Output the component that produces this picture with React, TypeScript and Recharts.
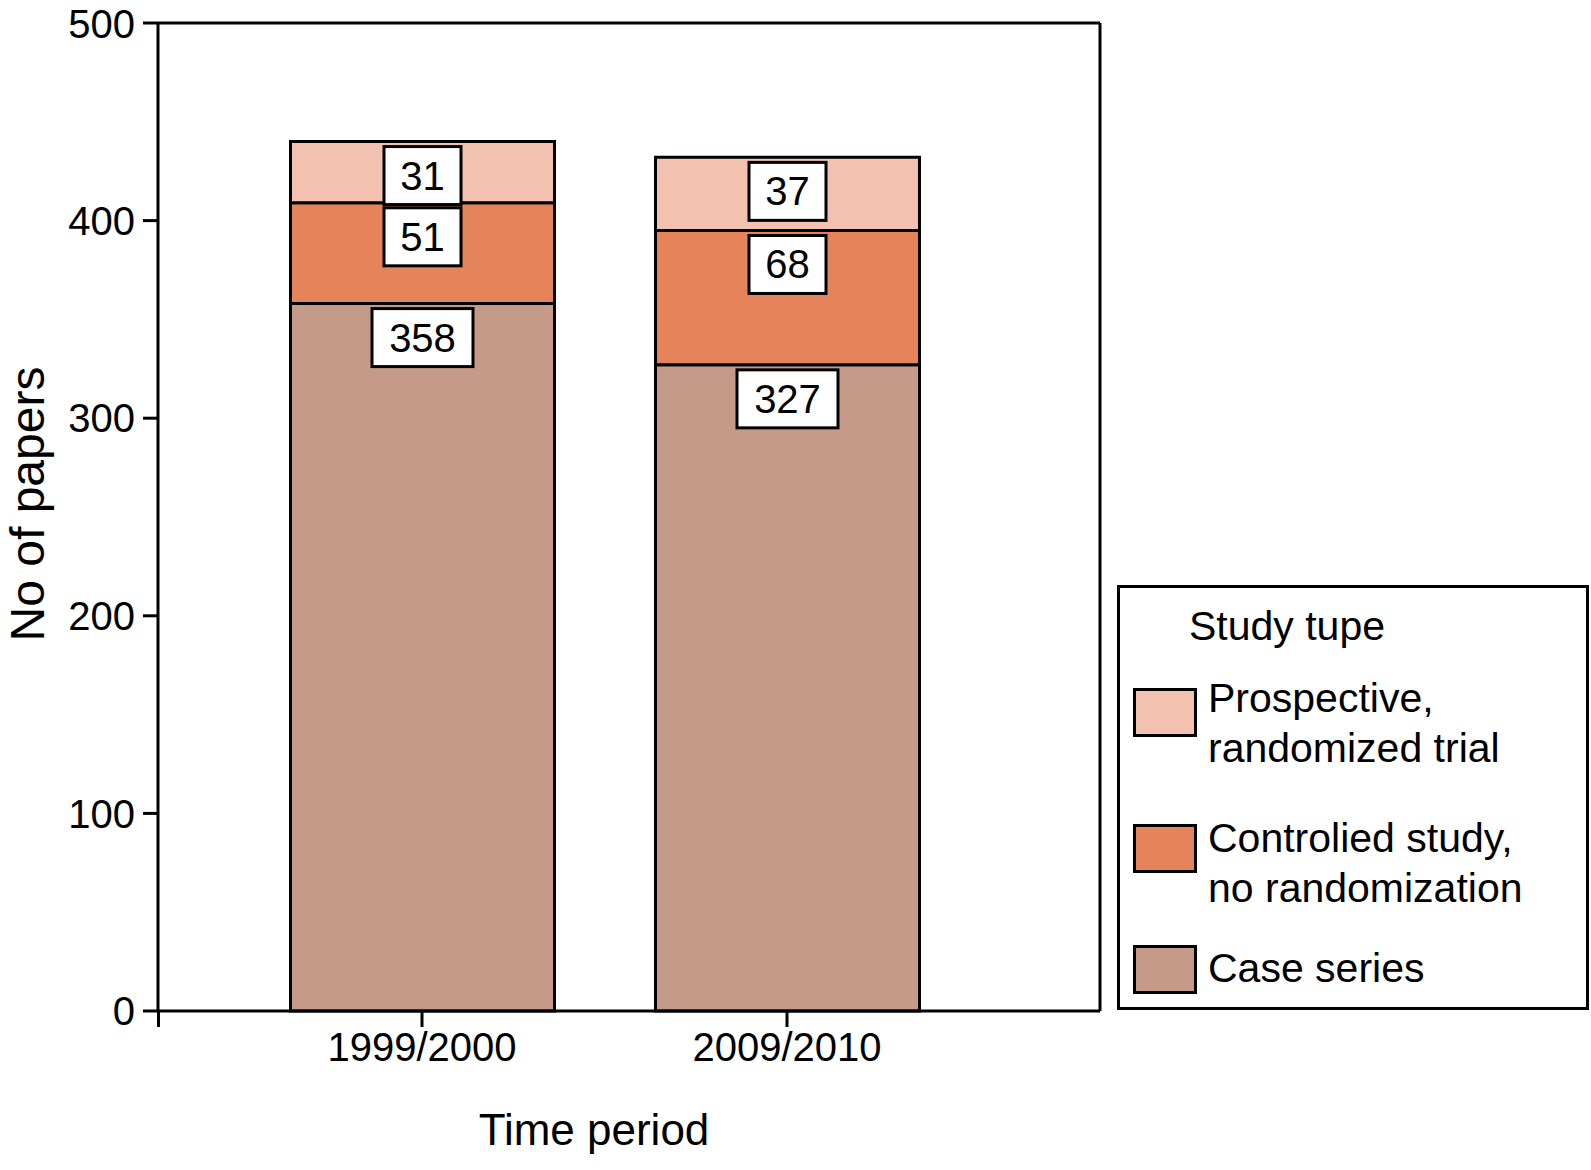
import { BarChart, Bar, XAxis, YAxis, Legend, LabelList, Label, CartesianGrid } from "recharts";

const periods = ["1999/2000", "2009/2010"];
const caseSeries = [358, 327];
const controlled = [51, 68];
const prospective = [31, 37];
const yTicks = [0, 100, 200, 300, 400, 500];

const SERIES = [
  { key: "caseSeries", name: "Case series", lines: ["Case series"], color: "#c69a89" },
  {
    key: "controlled",
    name: "Controlied study, no randomization",
    lines: ["Controlied study,", "no randomization"],
    color: "#e5845a",
  },
  {
    key: "prospective",
    name: "Prospective, randomized trial",
    lines: ["Prospective,", "randomized trial"],
    color: "#f3c1af",
  },
];

const data = periods.map((period, i) => ({
  period,
  caseSeries: caseSeries[i],
  controlled: controlled[i],
  prospective: prospective[i],
}));

const FONT = '"Liberation Sans", Arial, Helvetica, sans-serif';
const line = { stroke: "#000", strokeWidth: 3 };
const MARGIN = { top: 23, right: 491, bottom: 0, left: 0 };
const CHART_W = 1591;

function ValueBox(props: any) {
  const { x, y, width, value } = props;
  const cx = Number(x) + Number(width) / 2;
  const w = String(value).length > 2 ? 101 : 77;
  const top = Number(y) + 5;
  return (
    <g>
      <rect x={cx - w / 2} y={top} width={w} height={58} fill="#fff" stroke="#000" strokeWidth={3} />
      <text x={cx} y={top + 43} textAnchor="middle" fontSize={40} fill="#000">
        {value}
      </text>
    </g>
  );
}

function YTitle(props: any) {
  const vb = props.viewBox;
  const x = vb.x + 44;
  const y = vb.y + vb.height / 2 - 13;
  return (
    <text x={x} y={y} transform={`rotate(-90, ${x}, ${y})`} textAnchor="middle" fontSize={48} fill="#000">
      No of papers
    </text>
  );
}

function XTitle(props: any) {
  const vb = props.viewBox;
  return (
    <text x={vb.x + 436} y={vb.y + 134} textAnchor="middle" fontSize={44} fill="#000">
      Time period
    </text>
  );
}

// legend reads top to bottom opposite to the stacking order
const swatchTops = [103, 239, 360];
const textBaselines = [[127, 177], [267, 317], [397]];

function StudyLegend() {
  const items = [...SERIES].reverse();
  return (
    <svg width={472} height={425} style={{ display: "block" }}>
      <rect x={1.5} y={1.5} width={469} height={422} fill="#fff" stroke="#000" strokeWidth={3} />
      <text x={72} y={55} fontSize={41} fill="#000">
        Study tupe
      </text>
      {items.map((s, i) => (
        <g key={s.key}>
          <rect x={17.5} y={swatchTops[i] + 1.5} width={61} height={46} fill={s.color} stroke="#000" strokeWidth={3} />
          {s.lines.map((t, j) => (
            <text key={t} x={91} y={textBaselines[i][j]} fontSize={41} fill="#000">
              {t}
            </text>
          ))}
        </g>
      ))}
    </svg>
  );
}

// grid is used only for the top and right edges of the plot frame
const frameTop = (p: any) => [p?.offset?.top ?? MARGIN.top];
const frameRight = (p: any) => [p?.offset ? p.offset.left + p.offset.width : CHART_W - MARGIN.right];

export default function App() {
  return (
    <div
      style={{
        position: "absolute",
        left: 0,
        top: 0,
        width: 1591,
        height: 1170,
        background: "#fff",
        fontFamily: FONT,
      }}
    >
      <BarChart width={CHART_W} height={1170} data={data} margin={MARGIN}>
        <CartesianGrid
          stroke="#000"
          strokeWidth={3}
          horizontalCoordinatesGenerator={frameTop}
          verticalCoordinatesGenerator={frameRight}
        />
        <XAxis
          dataKey="period"
          height={159}
          padding={{ left: 81.5, right: 130.5 }}
          axisLine={line}
          tickLine={line}
          tickSize={16}
          tickMargin={6}
          tick={{ fill: "#000", fontSize: 40 }}
        >
          <Label content={XTitle} />
        </XAxis>
        <YAxis
          width={158}
          domain={[0, 500]}
          ticks={yTicks}
          axisLine={line}
          tickLine={line}
          tickSize={15}
          tickMargin={8}
          tick={{ fill: "#000", fontSize: 40 }}
        >
          <Label content={YTitle} />
        </YAxis>
        <Legend
          layout="horizontal"
          verticalAlign="middle"
          align="center"
          content={StudyLegend}
          wrapperStyle={{ left: 1117, top: 585, width: 472, height: 425 }}
        />
        {SERIES.map((s) => (
          <Bar
            key={s.key}
            dataKey={s.key}
            name={s.name}
            stackId="a"
            fill={s.color}
            stroke="#000"
            strokeWidth={3}
            barSize={264}
            isAnimationActive={false}
          >
            <LabelList dataKey={s.key} content={ValueBox} />
          </Bar>
        ))}
      </BarChart>
      <div style={{ position: "absolute", left: 156.5, top: 1011, width: 3, height: 16, background: "#000" }} />
    </div>
  );
}
